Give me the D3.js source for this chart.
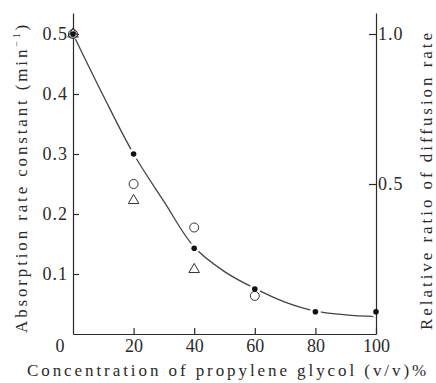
<!DOCTYPE html>
<html><head><meta charset="utf-8">
<script src="https://cdn.jsdelivr.net/npm/d3@7"></script>
<style>
html,body{margin:0;padding:0;background:#fff;}
svg{display:block;}
svg text{font-family:"Liberation Serif","Times New Roman",Tinos,"DejaVu Serif","Noto Serif","Noto Serif CJK JP",Times,serif !important;}
</style></head>
<body>
<svg id="chart" width="436" height="383"></svg>
<script>
// Data
const concentration = [0, 20, 40, 60, 80, 100];
const absorptionRate = [0.50, 0.30, 0.143, 0.075, 0.037, 0.037];
const circleConc = [0, 20, 40, 60];
const circleRatio = [1.0, 0.50, 0.355, 0.127];
const triangleConc = [0, 20, 40];
const triangleRatio = [1.0, 0.445, 0.215];
const curveConc = [0, 10, 20, 30, 40, 50, 60, 70, 80, 90, 100];
const curveRate = [0.50, 0.397, 0.30, 0.221, 0.145, 0.104, 0.076, 0.053, 0.038, 0.032, 0.029];
const xTicks = [20, 40, 60, 80, 100];
const leftTicks = [0.1, 0.2, 0.3, 0.4, 0.5];
const rightTicks = [0.5, 1.0];
const originLabel = "0";
const xTitle = "Concentration of propylene glycol  (v/v)%";
const leftTitle = "Absorption rate constant  (min";
const leftTitleSup = "−1";
const rightTitle = "Relative ratio of diffusion rate";

const svg = d3.select("#chart");
const x = d3.scaleLinear([0, 100], [73, 376]);
const yL = d3.scaleLinear([0, 0.535], [334, 13]);
const yR = d3.scaleLinear([0, 1.07], [334, 13]);
const ink = "#2a2a2a";

// curve
const line = d3.line().x((d, i) => x(curveConc[i])).y(d => yL(d)).curve(d3.curveCatmullRom.alpha(0.5));
svg.append("path").datum(curveRate).attr("d", line)
  .attr("fill", "none").attr("stroke", "#444").attr("stroke-width", 1.3);

// halos (gaps in line around dots)
svg.append("g").selectAll("circle").data(absorptionRate).join("circle")
  .attr("cx", (d, i) => x(concentration[i])).attr("cy", d => yL(d))
  .attr("r", 5.5).attr("fill", "#fff");

// axes
function styleAxis(g) {
  g.attr("font-family", null);
  g.selectAll("path,line").attr("stroke", ink).attr("stroke-width", 1.2);
  g.selectAll("text").attr("fill", ink).attr("font-size", 18);
}
svg.append("g").attr("transform", "translate(73,0)")
  .call(d3.axisLeft(yL).tickValues(leftTicks).tickFormat(d3.format(".1f"))
    .tickSizeInner(-6).tickSizeOuter(0).tickPadding(5))
  .call(styleAxis).call(g => g.selectAll("text").attr("letter-spacing", 1));
svg.append("g").attr("transform", "translate(376,0)")
  .call(d3.axisRight(yR).tickValues(rightTicks).tickFormat(d3.format(".1f"))
    .tickSizeInner(-7).tickSizeOuter(0).tickPadding(2))
  .call(styleAxis).call(g => g.selectAll("text").attr("letter-spacing", 1));
svg.append("g").attr("transform", "translate(0,334)")
  .call(d3.axisBottom(x).tickValues(xTicks).tickFormat(d3.format("d"))
    .tickSizeInner(-6).tickSizeOuter(0).tickPadding(5))
  .call(styleAxis);
svg.append("text").attr("x", 60).attr("y", 352).attr("text-anchor", "middle")
  .attr("font-size", 18).attr("fill", ink).text(originLabel);

// open circles
svg.append("g").selectAll("circle").data(circleRatio).join("circle")
  .attr("cx", (d, i) => x(circleConc[i])).attr("cy", d => yR(d))
  .attr("r", 4.5).attr("fill", "#fff").attr("stroke", "#333").attr("stroke-width", 1);

// triangles
svg.append("g").selectAll("path").data(triangleRatio).join("path")
  .attr("d", d3.symbol(d3.symbolTriangle, 48))
  .attr("transform", (d, i) => `translate(${x(triangleConc[i])},${yR(d)})`)
  .attr("fill", "none").attr("stroke", "#333").attr("stroke-width", 1);

// filled dots
svg.append("g").selectAll("circle").data(absorptionRate).join("circle")
  .attr("cx", (d, i) => x(concentration[i])).attr("cy", d => yL(d))
  .attr("r", 2.8).attr("fill", "#111");

// titles, fitted to span
function fit(t, target) {
  const n = t.text().length;
  const len = t.node().getComputedTextLength();
  t.attr("letter-spacing", (target - len) / n);
}
const xt = svg.append("text").attr("x", 27).attr("y", 376)
  .attr("font-size", 17).attr("fill", ink).text(xTitle);
fit(xt, 405);

const lt = svg.append("text").attr("transform", "translate(27,333) rotate(-90)")
  .attr("font-size", 17).attr("fill", ink);
lt.append("tspan").text(leftTitle);
lt.append("tspan").attr("font-size", 10).attr("dy", -7).text(leftTitleSup);
lt.append("tspan").attr("dy", 7).text(")");
{
  const n = (leftTitle + leftTitleSup + ")").length;
  const len = lt.node().getComputedTextLength();
  lt.attr("letter-spacing", (314 - len) / n);
}

const rt = svg.append("text").attr("transform", "translate(432,330) rotate(-90)")
  .attr("font-size", 17).attr("fill", ink).text(rightTitle);
fit(rt, 300);
</script>
</body></html>
